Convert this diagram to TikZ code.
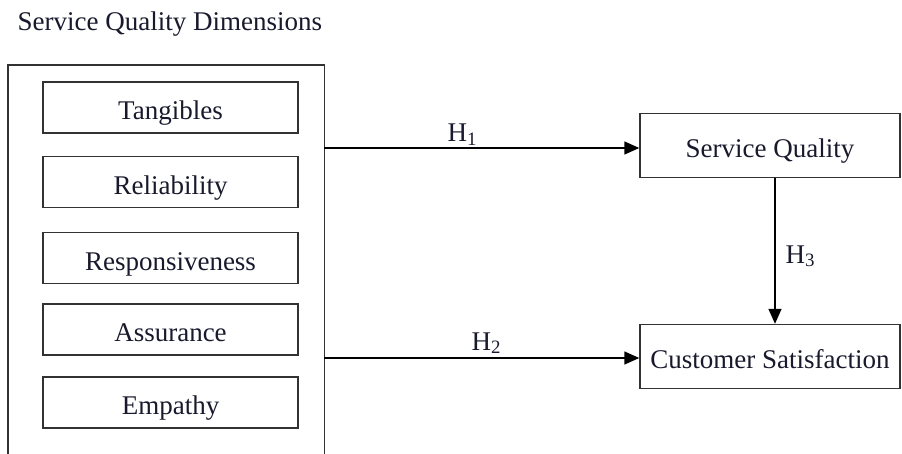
\documentclass[tikz,border=0pt]{standalone}
\usepackage{fontspec}
\setmainfont{Liberation Serif}
\usetikzlibrary{arrows.meta}
\begin{document}
\begin{tikzpicture}[x=1pt,y=-1pt,
  line width=1.4pt, draw={rgb,255:red,50;green,50;blue,50},
  every node/.style={font=\fontsize{27}{31}\selectfont, text={rgb,255:red,25;green,25;blue,45}},
  dimbox/.style={draw, minimum width=255pt, minimum height=51pt, inner sep=0pt, text height=24pt, text depth=0pt},
  outbox/.style={draw, minimum width=260pt, minimum height=64pt, inner sep=0pt, text height=24pt, text depth=0pt},
  hlabel/.style={anchor=base west, inner sep=0pt},
  arr/.style={-{Triangle[length=15pt,width=13pt]}, draw=black}]
\useasboundingbox (0,0) rectangle (902,453);
\clip (0,0) rectangle (902,453);
\node[anchor=base west, inner sep=0pt] (title) at (17,30) {Service Quality Dimensions};
\node[anchor=north west, minimum width=315pt, minimum height=400pt, inner sep=0pt] (outer) at (8,65) {};
\draw (outer.south west) -- (outer.north west) -- (outer.north east) -- (outer.south east);
\node[dimbox] (tan) at (170.5,107.5) {Tangibles};
\node[dimbox] (rel) at (170.5,182) {Reliability};
\node[dimbox] (res) at (170.5,258) {Responsiveness};
\node[dimbox] (ass) at (170.5,329.5) {Assurance};
\node[dimbox] (emp) at (170.5,402.5) {Empathy};
\node[outbox] (sq) at (770,145.5) {Service Quality};
\node[outbox] (cs) at (770,356.5) {Customer Satisfaction};
\draw[arr] ([yshift=-2.5pt]outer.east |- sq.west) -- ([yshift=-2.5pt]sq.west);
\draw[arr] ([yshift=-1.5pt]outer.east |- cs.west) -- ([yshift=-1.5pt]cs.west);
\draw[arr] ([xshift=5pt]sq.south) -- ([xshift=5pt]cs.north);
\node[hlabel] (h1) at (447,141.5) {H\textsubscript{1}};
\node[hlabel] (h2) at (471,350) {H\textsubscript{2}};
\node[hlabel] (h3) at (785,263) {H\textsubscript{3}};
\end{tikzpicture}
\end{document}
